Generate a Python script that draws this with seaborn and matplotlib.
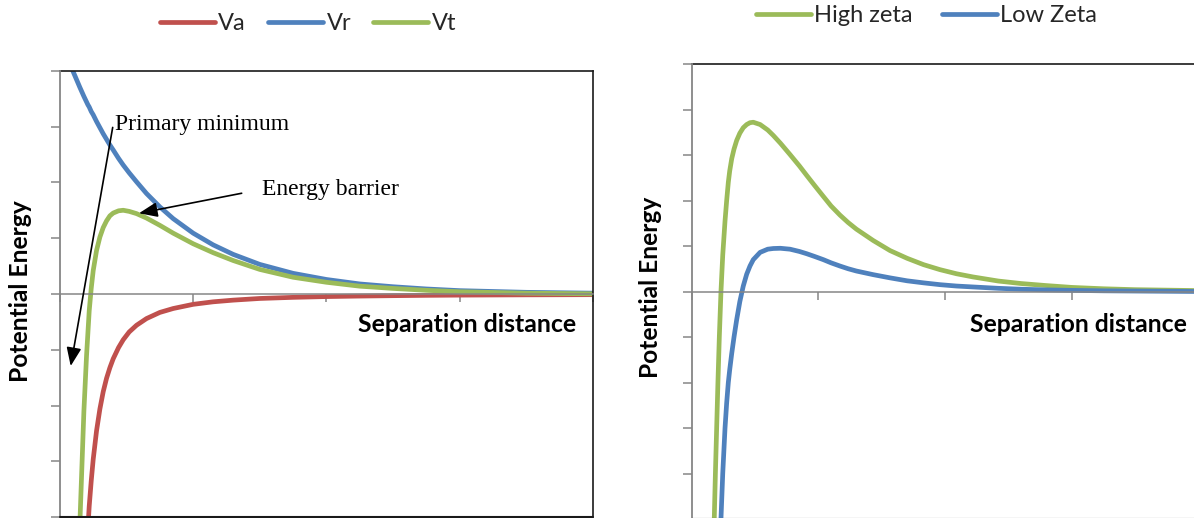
import matplotlib
matplotlib.use("Agg")
import matplotlib.pyplot as plt
import pandas as pd
import seaborn as sns

# ---- DLVO interaction energy curves (arbitrary units) ----
x_left = [0.09, 0.10, 0.125, 0.15, 0.165, 0.18, 0.19, 0.20, 0.21, 0.22,
          0.235, 0.25, 0.275, 0.30, 0.325, 0.35, 0.375, 0.40, 0.44, 0.475,
          0.52, 0.575, 0.65, 0.75, 0.85, 1.0, 1.15, 1.3, 1.5, 1.75,
          2.0, 2.25, 2.5, 2.75, 3.0, 3.5, 4.0]
va = [-22.8, -18.5, -11.8, -8.2, -6.8, -5.7, -5.1, -4.6, -4.2, -3.8,
      -3.35, -2.96, -2.45, -2.06, -1.75, -1.51, -1.32, -1.16, -0.96, -0.82,
      -0.68, -0.56, -0.44, -0.33, -0.26, -0.185, -0.14, -0.11, -0.08, -0.06,
      -0.046, -0.037, -0.03, -0.024, -0.02, -0.015, -0.012]
vr = [4.04, 3.98, 3.84, 3.70, 3.62, 3.54, 3.49, 3.44, 3.39, 3.35,
      3.27, 3.21, 3.09, 2.98, 2.87, 2.77, 2.67, 2.58, 2.43, 2.31,
      2.17, 2.01, 1.80, 1.56, 1.35, 1.09, 0.88, 0.71, 0.53, 0.37,
      0.26, 0.18, 0.13, 0.09, 0.06, 0.03, 0.015]
vt = [-18.8, -14.5, -8.0, -4.1, -3.1, -2.1, -1.6, -1.1, -0.7, -0.3,
      0.1, 0.42, 0.78, 1.02, 1.19, 1.31, 1.40, 1.45, 1.49, 1.50,
      1.48, 1.44, 1.36, 1.23, 1.09, 0.90, 0.74, 0.60, 0.44, 0.30,
      0.21, 0.14, 0.10, 0.066, 0.04, 0.015, 0.003]

x_right = [0.16, 0.178, 0.187, 0.197, 0.207, 0.218, 0.231, 0.245, 0.263, 0.276,
           0.289, 0.30, 0.316, 0.334, 0.355, 0.38, 0.407, 0.434, 0.46, 0.486,
           0.54, 0.60, 0.644, 0.70, 0.776, 0.85, 0.908, 0.97, 1.039, 1.10,
           1.17, 1.235, 1.30, 1.433, 1.565, 1.70, 1.83, 1.96, 2.09, 2.22,
           2.42, 2.6, 2.8, 3.0, 3.25, 3.5, 3.75, 4.0]
high_zeta = [-7.5, -5.0, -4.0, -3.0, -2.0, -1.0, 0.0, 0.8, 1.55, 2.0,
             2.4, 2.65, 2.92, 3.13, 3.32, 3.48, 3.6, 3.67, 3.71, 3.72,
             3.67, 3.55, 3.43, 3.26, 3.01, 2.76, 2.55, 2.33, 2.09, 1.88,
             1.68, 1.515, 1.37, 1.12, 0.90, 0.73, 0.59, 0.48, 0.39, 0.32,
             0.23, 0.175, 0.13, 0.09, 0.06, 0.04, 0.03, 0.02]
low_zeta = [-16, -12.0, -10.5, -8.8, -7.2, -6.1, -5.0, -4.0, -3.0, -2.45,
            -2.0, -1.72, -1.36, -1.0, -0.62, -0.22, 0.12, 0.38, 0.56, 0.70,
            0.86, 0.93, 0.945, 0.95, 0.93, 0.88, 0.83, 0.77, 0.70, 0.63,
            0.56, 0.50, 0.45, 0.37, 0.30, 0.235, 0.19, 0.15, 0.12, 0.10,
            0.07, 0.05, 0.035, 0.025, 0.015, 0.01, 0.005, 0.0]

left_names = ["Va", "Vr", "Vt"]
right_names = ["High zeta", "Low Zeta"]

RED, BLUE, GREEN = "#C0504D", "#4F81BD", "#9BBB59"
AXIS_GREY = "#868686"
SANS = ["Lato", "DejaVu Sans"]
SERIF = ["Liberation Serif", "DejaVu Serif"]

sns.set_theme(style="white")
plt.rcParams["font.family"] = SANS

W, H = 1194, 518
fig = plt.figure(figsize=(W / 100, H / 100), dpi=100)


def px_box(x0, x1, ytop, ybot):
    return [x0 / W, 1 - ybot / H, (x1 - x0) / W, (ybot - ytop) / H]


ax_l = fig.add_axes(px_box(59.9, 593.0, 70.7, 517.3))
ax_r = fig.add_axes(px_box(691.7, 1198.5, 64.0, 519.0))

df_left = pd.DataFrame({
    "distance": x_left * 3,
    "energy": va + vr + vt,
    "series": [n for n in left_names for _ in x_left],
})
df_right = pd.DataFrame({
    "distance": x_right * 2,
    "energy": high_zeta + low_zeta,
    "series": [n for n in right_names for _ in x_right],
})

line_kw = dict(linewidth=3.4, solid_capstyle="round", solid_joinstyle="round",
               estimator=None, sort=False, legend=False)
sns.lineplot(data=df_left, x="distance", y="energy", hue="series",
             hue_order=left_names, palette=[RED, BLUE, GREEN], ax=ax_l, **line_kw)
sns.lineplot(data=df_right, x="distance", y="energy", hue="series",
             hue_order=right_names, palette=[GREEN, BLUE], ax=ax_r, **line_kw)

left_handles = list(ax_l.get_lines())
right_handles = list(ax_r.get_lines())


def style_axes(ax, ylim):
    ax.set_xlim(0, 4)
    ax.set_ylim(-ylim, ylim)
    ax.set_xticks(range(0, 5))
    ax.set_yticks(range(-ylim, ylim + 1))
    ax.set_xticklabels([])
    ax.set_yticklabels([])
    ax.set_xlabel("")
    ax.set_ylabel("")
    ax.grid(False)
    ax.set_facecolor("white")
    # horizontal category axis crosses at zero
    ax.spines["bottom"].set_position(("data", 0))
    ax.spines["bottom"].set_color(AXIS_GREY)
    ax.spines["bottom"].set_linewidth(1.1)
    ax.spines["left"].set_color(AXIS_GREY)
    ax.spines["left"].set_linewidth(1.3)
    for side in ("top", "right"):
        ax.spines[side].set_color("#1a1a1a")
        ax.spines[side].set_linewidth(1.2)
    ax.spines["left"].set_zorder(3)
    # plot-area border along the bottom
    ax.plot([0, 1], [0, 0], transform=ax.transAxes, color="#1a1a1a",
            lw=1.5, clip_on=False, zorder=4)
    ax.tick_params(axis="x", direction="out", length=5.5, width=1.1,
                   color=AXIS_GREY, bottom=True)
    ax.tick_params(axis="y", direction="out", length=6.5, width=1.1,
                   color=AXIS_GREY, left=True)


style_axes(ax_l, 4)
style_axes(ax_r, 5)

renderer = fig.canvas.get_renderer()


def fit(t, target, use_height=False):
    bb = t.get_window_extent(renderer)
    size = bb.height if use_height else bb.width
    t.set_fontsize(t.get_fontsize() * target / size)


def fig_xy(px, py):
    return px / W, 1 - py / H


# axis titles
for (sx, sy, wid) in [(358, 331.5, 218), (970, 331.7, 217)]:
    t = fig.text(*fig_xy(sx, sy), "Separation distance", ha="left",
                 va="baseline", fontweight="bold", fontsize=18, color="black",
                 family=SANS)
    fit(t, wid)
for (cx, cy, ln) in [(21, 291, 182), (651, 287, 181)]:
    t = fig.text(*fig_xy(cx, cy), "Potential Energy", ha="center",
                 va="center", rotation=90, fontweight="bold", fontsize=18,
                 color="black", family=SANS)
    fit(t, ln, use_height=True)


# annotations on the left chart
def to_data(px, py):
    return (px - 59.9) / 133.3, (294.0 - py) / 55.8


ax_l.text(*to_data(115, 130.5), "Primary minimum", family=SERIF,
          fontsize=17, color="black", ha="left", va="baseline")
ax_l.text(*to_data(261.7, 195.5), "Energy barrier", family=SERIF,
          fontsize=17, color="black", ha="left", va="baseline")
arrow = dict(arrowstyle="-|>,head_length=0.8,head_width=0.32",
             mutation_scale=14, color="black", lw=1.2,
             shrinkA=0, shrinkB=0)
ax_l.annotate("", xy=to_data(70.7, 366), xytext=to_data(112.7, 127.5),
              arrowprops=arrow, annotation_clip=False)
ax_l.annotate("", xy=to_data(139, 213.3), xytext=to_data(241.7, 193.3),
              arrowprops=arrow, annotation_clip=False)

# legends
leg_kw = dict(loc="center", frameon=False, fontsize=17, handlelength=2.33,
              handletextpad=0.15, borderpad=0, borderaxespad=0)
fig.legend(left_handles, left_names, bbox_to_anchor=fig_xy(308, 23.3),
           ncol=3, columnspacing=0.93, **leg_kw)
fig.legend(right_handles, right_names, bbox_to_anchor=fig_xy(926.5, 15.7),
           ncol=2, columnspacing=1.23, **leg_kw)

fig.savefig("out.png", dpi=100, facecolor="white")
